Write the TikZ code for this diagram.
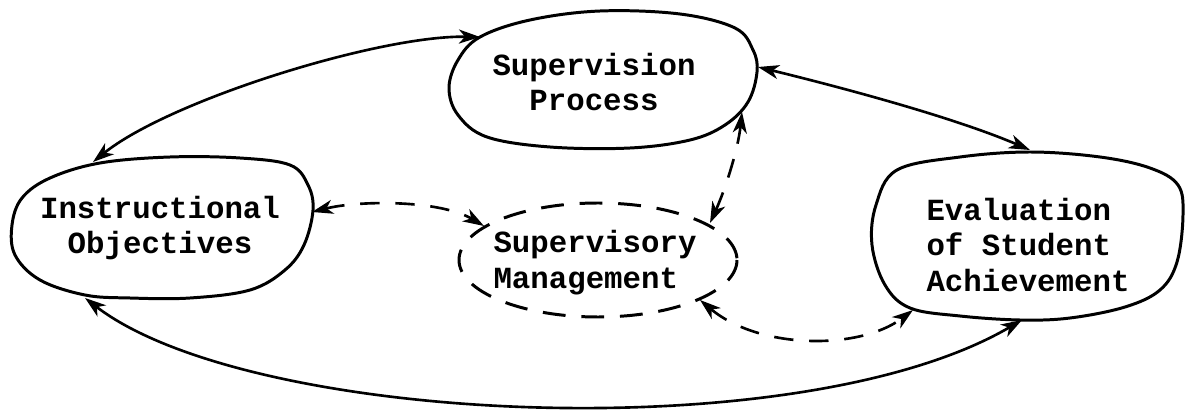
\documentclass[tikz,border=0pt]{standalone}
\usepackage{fontspec}
\setmonofont{Liberation Mono}
\usetikzlibrary{arrows.meta}
\tikzset{
  blob/.style={line width=1.7pt, line join=round},
  mgmt/.style={line width=1.7pt, dash pattern=on 13pt off 9pt},
  tipx/.style={Stealth[length=12pt,width=8pt,inset=3.5pt]},
  conn/.style={line width=1.5pt, {Stealth[length=12pt,width=8pt,inset=3.5pt]}-{Stealth[length=12pt,width=8pt,inset=3.5pt]}},
  dconn/.style={conn, dash pattern=on 11pt off 9pt},
  lbl/.style={font=\ttfamily\bfseries\fontsize{17.5}{20.4}\selectfont, inner sep=0pt}
}
\begin{document}
\begin{tikzpicture}[x=0.02cm,y=-0.02cm]
\useasboundingbox[fill=white] (0,0) rectangle (1187,415);
% blobs
\draw[blob] plot[smooth cycle, tension=0.6] coordinates {(480,37) (530,20) (600,11) (680,14) (735,28) (753,50) (757,72) (748,102) (725,125) (690,140) (630,148) (550,147) (487,137) (458,115) (449,88) (458,60)};
\draw[blob] plot[smooth cycle, tension=0.6] coordinates {(50,178) (100,163) (170,157) (240,158) (290,165) (308,185) (313,210) (304,245) (285,270) (250,290) (190,298) (130,298) (85,295) (40,280) (15,255) (12,225) (22,198)};
\draw[blob] plot[smooth cycle, tension=0.6] coordinates {(897,170) (960,157) (1030,152) (1100,157) (1150,168) (1178,185) (1183,215) (1177,262) (1160,290) (1125,307) (1070,318) (1020,320) (960,316) (910,308) (885,285) (872,245) (876,205)};
\draw[mgmt] (598,260) ellipse [x radius=139, y radius=57];
% labels
\node[lbl, align=center] (sp) at (594,82) {Supervision\\Process};
\node[lbl, align=center] (io) at (160,228) {Instructional\\Objectives};
\node[lbl, align=left] (sm) at (595,263) {Supervisory\\Management};
\node[lbl, align=left] (ev) at (1028,245) {Evaluation\\of Student\\Achievement};
% connector end points
\coordinate (io-top) at (93,162);
\coordinate (io-right) at (312,212);
\coordinate (io-bot) at (85,298);
\coordinate (sp-left) at (480,37);
\coordinate (sp-right) at (758,67);
\coordinate (sp-bot) at (742,112);
\coordinate (sm-left) at (484,226);
\coordinate (sm-top) at (710,223);
\coordinate (sm-right) at (700,300);
\coordinate (ev-top) at (1030,150);
\coordinate (ev-left) at (913,310);
\coordinate (ev-bot) at (1022,320);
% connectors
\draw[conn] (io-top) .. controls (170,100) and (380,35) .. (sp-left);
\draw[conn] (sp-right) .. controls (860,92) and (960,120) .. (ev-top);
\draw[conn] (io-bot) .. controls (250,425) and (800,450) .. (ev-bot);
\draw[dconn] (io-right) .. controls (360,200) and (440,200) .. (sm-left);
\draw[dconn] (sm-top) .. controls (725,190) and (738,150) .. (sp-bot);
\draw[dconn] (sm-right) .. controls (760,350) and (860,350) .. (ev-left);
\end{tikzpicture}
\end{document}
